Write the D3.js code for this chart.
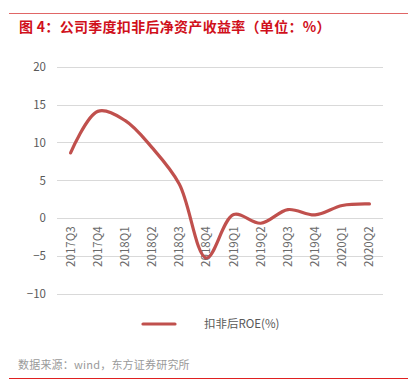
<!DOCTYPE html>
<html><head><meta charset="utf-8">
<script src="https://cdn.jsdelivr.net/npm/d3@7"></script>
<style>
html,body{margin:0;padding:0;background:#fff;}
svg{display:block;}
</style></head>
<body>
<svg id="c" width="408" height="381"></svg>
<script>
const categories = ["2017Q3","2017Q4","2018Q1","2018Q2","2018Q3","2018Q4","2019Q1","2019Q2","2019Q3","2019Q4","2020Q1","2020Q2"];
const roeValues = [8.6, 14.1, 12.9, 9.3, 4.5, -5.3, 0.45, -0.7, 1.1, 0.4, 1.65, 1.85];
const yTicks = [-10, -5, 0, 5, 10, 15, 20];
const titleText = "图 4：公司季度扣非后净资产收益率（单位：%）";
const seriesName = "扣非后ROE(%)";
const sourceText = "数据来源：wind，东方证券研究所";

const svg = d3.select("#c");
const font = "'Noto Sans CJK SC', 'Noto Sans', sans-serif";

// top rule
svg.append("line").attr("x1",9).attr("x2",408).attr("y1",13.5).attr("y2",13.5)
  .attr("stroke","#e06666").attr("stroke-width",1);
// title
svg.append("text").attr("x",19).attr("y",32).text(titleText)
  .attr("font-family",font).attr("font-size",14).attr("font-weight","bold")
  .attr("letter-spacing",0.3).attr("fill","#d0101b");

const x = d3.scaleBand().domain(categories).range([57,383]);
const y = d3.scaleLinear().domain([-10,20]).range([293.5,66.8]);

// grid
svg.append("g").selectAll("line").data(yTicks).join("line")
  .attr("x1",57).attr("x2",383)
  .attr("y1",d=>Math.round(y(d))+0.5).attr("y2",d=>Math.round(y(d))+0.5)
  .attr("stroke","#d9d9d9").attr("stroke-width",1);

// y labels
const yAxis = d3.axisLeft(y).tickValues(yTicks).tickSize(0).tickPadding(0);
const ya = svg.append("g").attr("transform","translate(46,0)").call(yAxis);
ya.select(".domain").remove();
ya.selectAll("text").attr("font-family",font).attr("font-size",11.5).attr("fill","#595959").attr("dy","0.35em");

// x labels
const xAxis = d3.axisBottom(x).tickSize(0).tickPadding(0);
const xa = svg.append("g").attr("transform","translate(0,"+y(0)+")").call(xAxis);
xa.select(".domain").remove();
xa.selectAll("text")
  .attr("font-family",font).attr("font-size",11.5).attr("fill","#6a6a6a")
  .attr("text-anchor","end").attr("transform","rotate(-90)")
  .attr("x",-8.5).attr("y",0).attr("dy","0.35em");

// line
const line = d3.line()
  .x((d,i)=>x(categories[i])+x.bandwidth()/2)
  .y(d=>y(d))
  .curve(d3.curveCatmullRom.alpha(0.5));
svg.append("path").datum(roeValues).attr("d",line)
  .attr("fill","none").attr("stroke","#c0504d").attr("stroke-width",3.2)
  .attr("stroke-linecap","round").attr("stroke-linejoin","round");

// legend
svg.append("line").attr("x1",143).attr("x2",175).attr("y1",324).attr("y2",324)
  .attr("stroke","#c0504d").attr("stroke-width",3.2).attr("stroke-linecap","round");
svg.append("text").attr("x",204).attr("y",328).text(seriesName)
  .attr("font-family",font).attr("font-size",11.5).attr("fill","#595959");

// source
svg.append("text").attr("x",18).attr("y",369).text(sourceText)
  .attr("font-family",font).attr("font-size",11).attr("letter-spacing",0.2).attr("fill","#9a9a9a");
svg.append("line").attr("x1",9).attr("x2",408).attr("y1",378.5).attr("y2",378.5)
  .attr("stroke","#e02020").attr("stroke-width",1.2);
</script>
</body></html>
